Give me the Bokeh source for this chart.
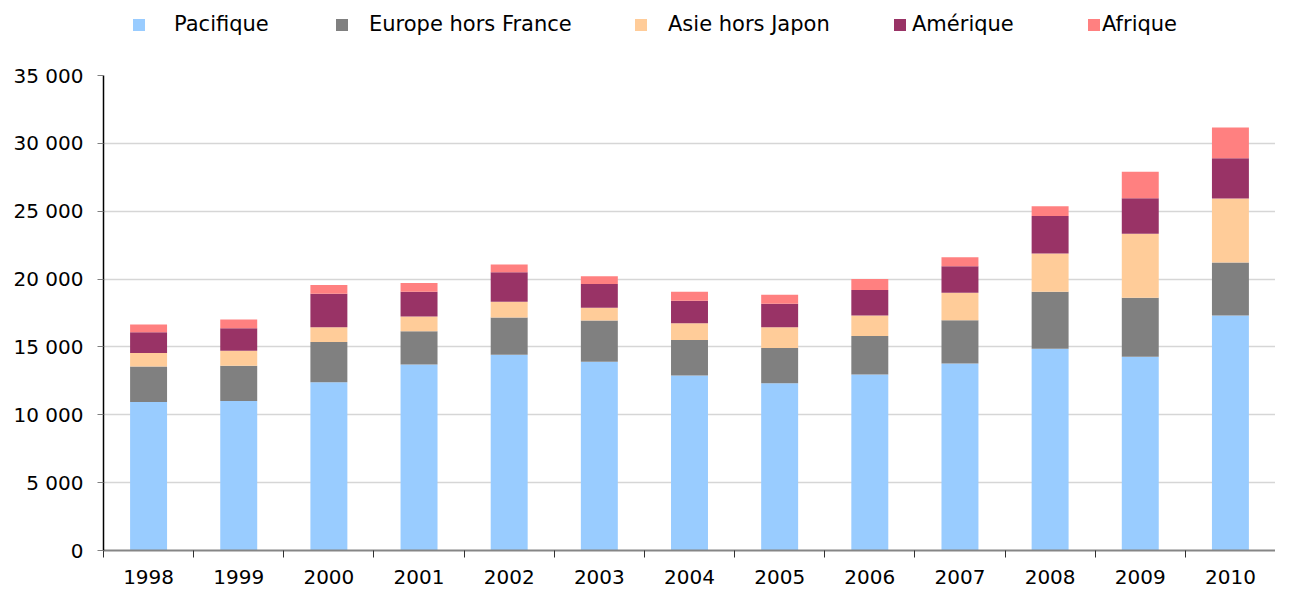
from bokeh.plotting import figure
from bokeh.layouts import column
from bokeh.models import (ColumnDataSource, Range1d, FixedTicker, Legend, LegendItem,
                          CustomJSTickFormatter)
from bokeh.embed import file_html
from bokeh.resources import INLINE

# ---- data ----
years = ["1998", "1999", "2000", "2001", "2002", "2003", "2004",
         "2005", "2006", "2007", "2008", "2009", "2010"]
series = ["Pacifique", "Europe hors France", "Asie hors Japon", "Amérique", "Afrique"]
pacifique = [10940, 11010, 12390, 13700, 14420, 13910, 12900, 12320, 12970, 13770, 14860, 14280, 17320]
europe    = [2610, 2610, 2970, 2460, 2750, 3040, 2610, 2610, 2830, 3190, 4200, 4350, 3910]
asie      = [1010, 1090, 1090, 1090, 1160, 940, 1230, 1520, 1520, 2030, 2830, 4710, 4710]
amerique  = [1520, 1670, 2460, 1810, 2170, 1740, 1670, 1740, 1880, 1960, 2750, 2610, 2970]
afrique   = [580, 650, 650, 650, 580, 580, 650, 650, 800, 650, 720, 1960, 2250]
y_ticks = [0, 5000, 10000, 15000, 20000, 25000, 30000, 35000]

# ---- styles ----
colors = ["#99CCFF", "#808080", "#FFCC99", "#993366", "#FF8080"]
FONT = "DejaVu Sans"
W = 1275
LEG_H = 60
LEFT = 103

keys = ["pacifique", "europe", "asie", "amerique", "afrique"]
n = len(years)
xc = [i + 0.5 for i in range(n)]
src = ColumnDataSource(dict(x=xc, year=years, pacifique=pacifique, europe=europe,
                            asie=asie, amerique=amerique, afrique=afrique))

# ---------------- main chart ----------------
p = figure(width=W, height=588 - LEG_H, x_range=Range1d(0, n), y_range=Range1d(0, 35000),
           output_backend="svg", toolbar_location=None,
           min_border_left=LEFT, min_border_right=0, min_border_top=15, min_border_bottom=38)
p.outline_line_color = None
p.border_fill_color = "white"

rs = p.vbar_stack(keys, x="x", width=0.41, source=src, fill_color=colors, line_color=None)

# x axis: labels at the centres, tick marks between the categories
p.xaxis.ticker = FixedTicker(ticks=xc, minor_ticks=list(range(n)))
p.xaxis.formatter = CustomJSTickFormatter(args=dict(years=years),
                                          code="return years[Math.floor(tick)];")
p.xaxis.major_tick_out = 0
p.xaxis.major_tick_in = 0
p.xaxis.minor_tick_out = 7
p.xaxis.minor_tick_in = 0
p.xaxis.minor_tick_line_color = "#303030"
p.xaxis.axis_line_color = "#868686"
p.xaxis.axis_line_width = 2
p.xaxis.major_label_standoff = 12
p.xgrid.visible = False

# y axis
p.yaxis.ticker = FixedTicker(ticks=y_ticks, minor_ticks=[])
p.yaxis.formatter = CustomJSTickFormatter(
    code="return tick.toFixed(0).replace(/\\B(?=(\\d{3})+(?!\\d))/g, ' ');")
p.yaxis.major_tick_out = 6
p.yaxis.major_tick_in = 0
p.yaxis.major_tick_line_color = "#808080"
p.yaxis.axis_line_color = "black"
p.yaxis.axis_line_width = 1.5
p.yaxis.major_label_standoff = 14
p.ygrid.grid_line_color = "#d6d6d6"
p.ygrid.grid_line_width = 1.5

for ax in (p.xaxis, p.yaxis):
    ax.major_label_text_font = FONT
    ax.major_label_text_font_size = "20px"
    ax.major_label_text_color = "black"

# ---------------- legend strip ----------------
lg = figure(width=W, height=LEG_H, x_range=Range1d(0, 1), y_range=Range1d(0, 1),
            output_backend="svg", toolbar_location=None,
            x_axis_location=None, y_axis_location=None, min_border=0,
            min_border_left=LEFT, min_border_right=0)
lg.outline_line_color = None
lg.xgrid.visible = False
lg.ygrid.visible = False

# positions of the legend squares (page pixels) and label gaps
leg_x = [131, 334, 633, 892, 1086]
leg_standoff = [28, 20, 20, 5, 1]
for i in range(len(series)):
    # zero-size renderer that only supplies the legend swatch style
    dummy = lg.vbar(x=[0], top=[0], bottom=[0], width=0,
                    fill_color=colors[i], line_color=None)
    leg = Legend(items=[LegendItem(label=series[i], renderers=[dummy])],
                 location=(leg_x[i] - LEFT, 24), orientation="horizontal",
                 glyph_width=15, glyph_height=15, label_standoff=leg_standoff[i],
                 padding=0, margin=0, spacing=0, border_line_color=None,
                 background_fill_alpha=0, label_text_font=FONT,
                 label_text_font_size="21px", label_text_color="black")
    lg.add_layout(leg, "center")

layout = column(lg, p, spacing=0)
open("out.html", "w").write(file_html(layout, INLINE))
